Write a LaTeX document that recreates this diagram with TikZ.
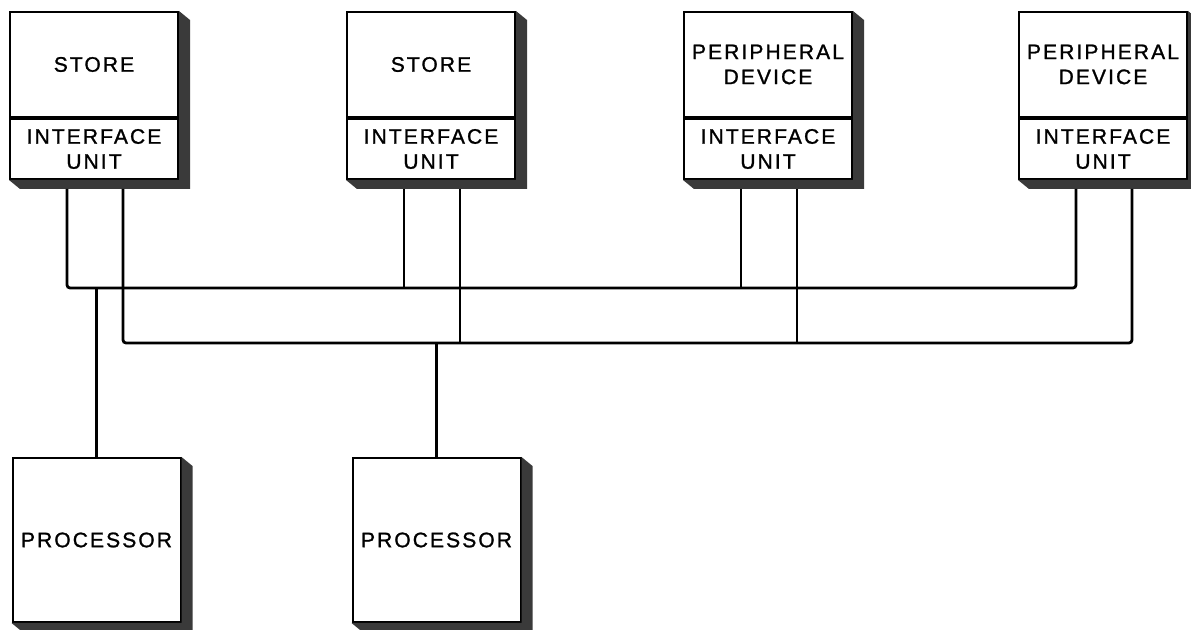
\documentclass[tikz,border=0pt]{standalone}
\usepackage{fontspec}
\setsansfont{Liberation Sans}[LetterSpace=10,FakeBold=1.2]
\usetikzlibrary{positioning,calc}
\definecolor{shadow}{HTML}{3A3A3A}
\tikzset{unitbox/.style={draw=black,line width=1pt,fill=white,align=center,minimum width=84pt,inner sep=0pt,font=\sffamily\fontsize{10.5}{12.5}\selectfont},topbox/.style={unitbox,minimum height=52.5pt},ifbox/.style={unitbox,minimum height=30pt},procbox/.style={unitbox,minimum height=82pt},bus/.style={line width=1.4pt,rounded corners=1.5pt}}

\begin{document}
\begin{tikzpicture}[x=0.5pt,y=-0.5pt]
\useasboundingbox (0,0) rectangle (1191,630);
\node[topbox] (st1) at (94,64.5) {\raisebox{-5pt}{STORE}};
\node[ifbox,below=0pt of st1] (if1) {INTERFACE\\UNIT};
\node[topbox] (st2) at (431,64.5) {\raisebox{-5pt}{STORE}};
\node[ifbox,below=0pt of st2] (if2) {INTERFACE\\UNIT};
\node[topbox] (pd1) at (768,64.5) {PERIPHERAL\\DEVICE};
\node[ifbox,below=0pt of pd1] (if3) {INTERFACE\\UNIT};
\node[topbox] (pd2) at (1103,64.5) {PERIPHERAL\\DEVICE};
\node[ifbox,below=0pt of pd2] (if4) {INTERFACE\\UNIT};
\node[procbox] (pr1) at (96.5,540) {PROCESSOR};
\node[procbox] (pr2) at (436.5,540) {PROCESSOR};
% shadows
\foreach \t/\b in {st1/if1,st2/if2,pd1/if3,pd2/if4,pr1/pr1,pr2/pr2}
  \fill[shadow] (\t.north east) -- ++(11,9) -- ($(\b.south east)+(11,9)$) -- ($(\b.south west)+(11,9)$) -- (\b.south west) -- (\b.south east) -- cycle;
% ports and bus levels
\coordinate (busA) at (0,288);
\coordinate (busB) at (0,343);
\foreach \n in {1,2,3,4}{
  \coordinate (a\n) at ($(if\n.south)+(-27,9)$);
  \coordinate (b\n) at ($(if\n.south)+(29,9)$);
}
\draw[bus] (a1) -- (a1 |- busA) -- (a4 |- busA) -- (a4);
\draw[bus] (b1) -- (b1 |- busB) -- (b4 |- busB) -- (b4);
\foreach \n in {2,3}{\draw[bus] (a\n) -- (a\n |- busA);\draw[bus] (b\n) -- (b\n |- busB);}
\draw[bus] (pr1.north) -- (pr1.north |- busA);
\draw[bus] (pr2.north) -- (pr2.north |- busB);
\end{tikzpicture}
\end{document}
